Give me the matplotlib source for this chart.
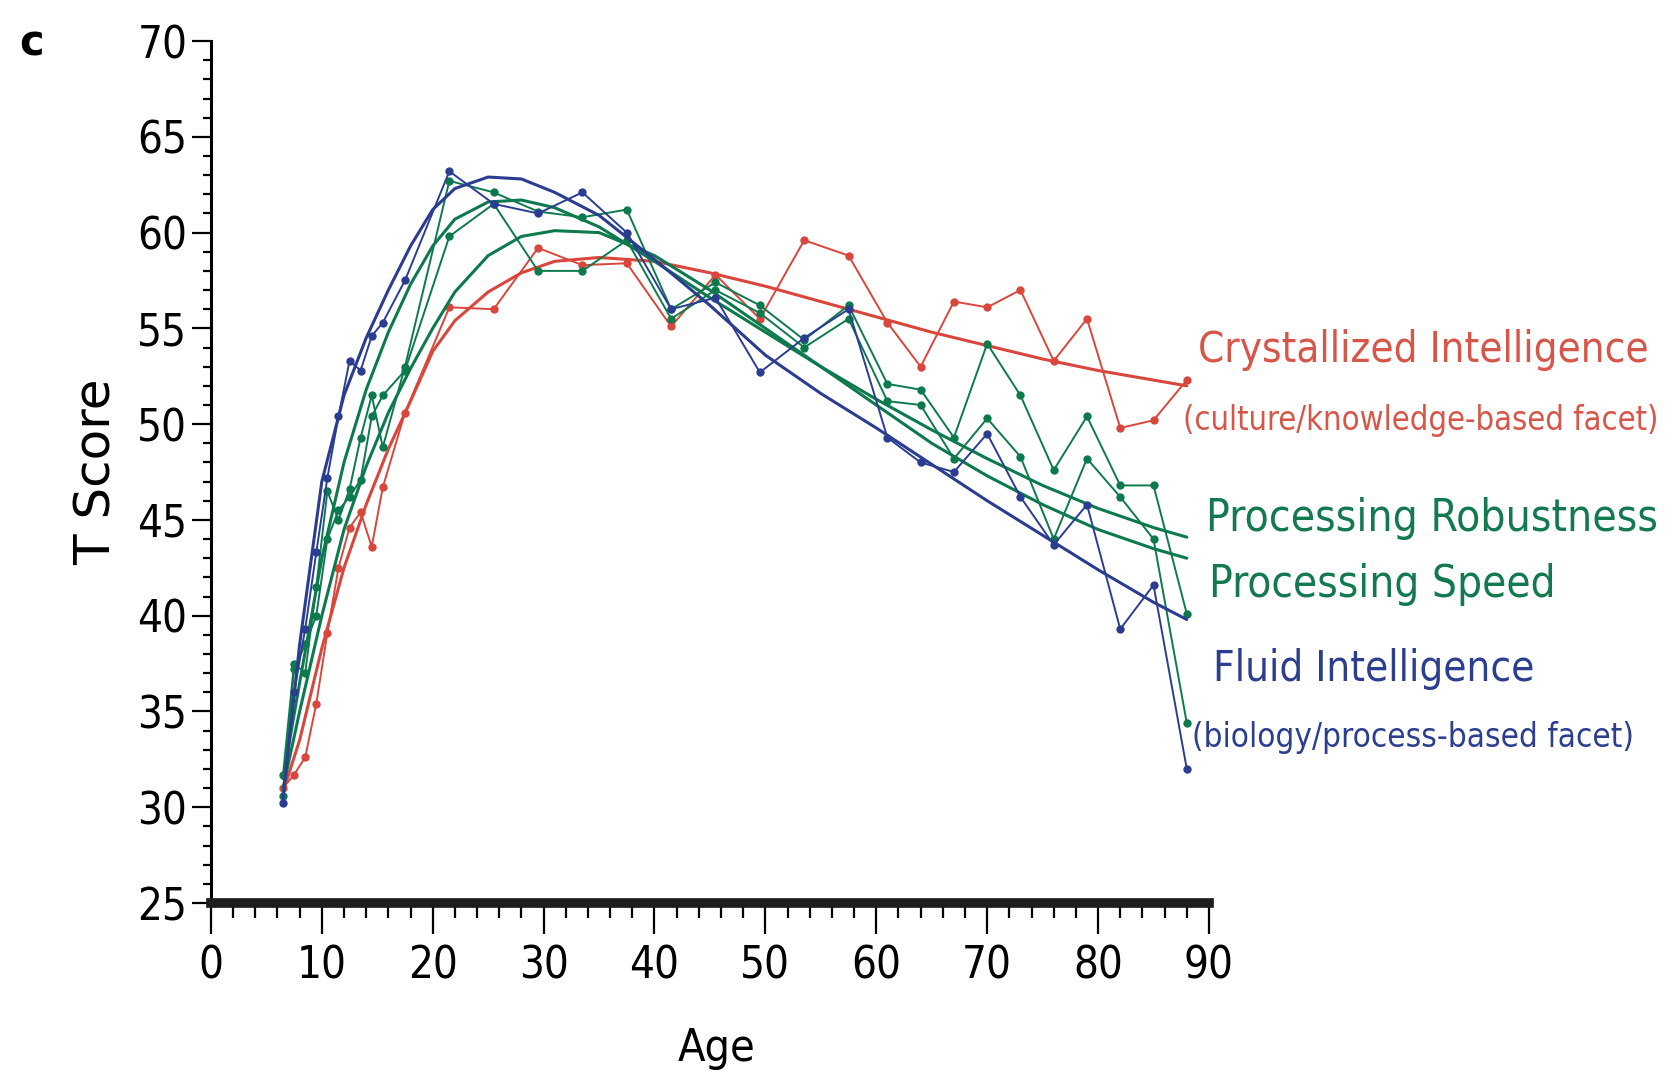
import matplotlib
matplotlib.use("Agg")
import matplotlib.pyplot as plt
import matplotlib.font_manager as fm
from matplotlib.ticker import MultipleLocator

# ------------------------------------------------------------
# Data
# ------------------------------------------------------------
ages = [6.5, 7.5, 8.5, 9.5, 10.5, 11.5, 12.5, 13.5, 14.5, 15.5, 17.5,
        21.5, 25.5, 29.5, 33.5, 37.5, 41.5, 45.5, 49.5, 53.5, 57.5,
        61, 64, 67, 70, 73, 76, 79, 82, 85, 88]

crystallized = [31.0, 31.7, 32.6, 35.4, 39.1, 42.5, 44.6, 45.4, 43.6, 46.7, 50.6,
                56.1, 56.0, 59.2, 58.3, 58.4, 55.1, 57.8, 55.5, 59.6, 58.8,
                55.3, 53.0, 56.4, 56.1, 57.0, 53.3, 55.5, 49.8, 50.2, 52.3]

robustness = [31.7, 37.5, 37.0, 41.5, 46.5, 45.0, 46.6, 49.3, 51.5, 48.8, 53.0,
              62.7, 62.1, 61.1, 60.8, 61.2, 56.0, 57.4, 56.2, 54.4, 56.2,
              52.1, 51.8, 49.3, 54.2, 51.5, 47.6, 50.4, 46.8, 46.8, 40.1]

speed = [30.6, 37.2, 38.5, 40.0, 44.0, 45.5, 46.2, 47.1, 50.4, 51.5, 52.8,
         59.8, 61.5, 58.0, 58.0, 59.6, 55.5, 57.0, 55.8, 54.0, 55.5,
         51.2, 51.0, 48.2, 50.3, 48.3, 44.0, 48.2, 46.2, 44.0, 34.4]

fluid = [30.2, 36.0, 39.3, 43.3, 47.2, 50.4, 53.3, 52.8, 54.6, 55.3, 57.5,
         63.2, 61.5, 61.0, 62.1, 60.0, 56.0, 56.6, 52.7, 54.5, 56.0,
         49.3, 48.0, 47.5, 49.5, 46.2, 43.7, 45.8, 39.3, 41.6, 32.0]

# fitted curves (read at these ages)
fit_ages = [6.5, 8, 10, 12, 14, 16, 18, 20, 22, 25, 28, 31, 35,
            40, 45, 50, 55, 60, 65, 70, 75, 80, 85, 88]
fit_crystallized = [30.8, 33.5, 38.3, 42.5, 45.8, 48.7, 51.2, 53.8, 55.4, 56.9, 57.9, 58.5, 58.7,
                    58.5, 57.9, 57.2, 56.4, 55.6, 54.8, 54.1, 53.4, 52.8, 52.3, 52.0]
fit_robustness = [31.5, 36.5, 43.0, 48.0, 51.8, 54.8, 57.3, 59.3, 60.7, 61.6, 61.7, 61.3, 60.3,
                  58.5, 56.6, 54.8, 53.0, 51.3, 49.7, 48.2, 46.8, 45.6, 44.6, 44.1]
fit_speed = [31.0, 35.0, 40.0, 44.5, 47.8, 50.6, 52.9, 55.0, 56.9, 58.8, 59.8, 60.1, 60.0,
             58.8, 57.0, 55.0, 53.0, 51.0, 49.0, 47.3, 45.8, 44.5, 43.5, 43.0]
fit_fluid = [30.5, 38.5, 47.0, 51.5, 54.5, 57.0, 59.3, 61.2, 62.3, 62.9, 62.8, 62.1, 60.9,
             58.6, 56.2, 53.6, 51.6, 49.8, 47.9, 46.0, 44.2, 42.4, 40.7, 39.8]

RED = "#d8463c"
GREEN = "#0d7a4e"
BLUE = "#2b3d91"
RED_TXT = "#d6564a"
GREEN_TXT = "#137a50"
BLUE_TXT = "#2c3f8f"

W, H = 1674, 1083


# pick a narrow sans if one is installed, else Liberation Sans
def narrow_font():
    for f in fm.fontManager.ttflist:
        if f.name == "Liberation Sans Narrow" and f.style == "normal" and f.weight in (400, "normal", "regular"):
            return fm.FontProperties(fname=f.fname)
    for fam in ["DejaVu Sans", "Roboto", "Open Sans", "Noto Sans", "Liberation Sans"]:
        for f in fm.fontManager.ttflist:
            if (f.name == fam and f.style == "normal" and "condensed" in str(f.stretch)
                    and f.weight in (400, "normal", "regular")):
                return fm.FontProperties(fname=f.fname)
    return fm.FontProperties(family="Liberation Sans")


FP = narrow_font()

# ------------------------------------------------------------
# Plot
# ------------------------------------------------------------
fig = plt.figure(figsize=(W / 100, H / 100), dpi=100)
ax = fig.add_axes([0.1260, 0.1662, 0.5962, 0.7959])

series = [
    (crystallized, fit_crystallized, RED),
    (robustness, fit_robustness, GREEN),
    (speed, fit_speed, GREEN),
    (fluid, fit_fluid, BLUE),
]
for vals, fit, col in series:
    ax.plot(fit_ages, fit, color=col, linewidth=2.2, solid_capstyle="round")
    ax.plot(ages, vals, color=col, linewidth=1.4, marker="o", markersize=6,
            markeredgewidth=0)

ax.set_xlim(0, 90)
ax.set_ylim(25, 70)

ax.spines["top"].set_visible(False)
ax.spines["right"].set_visible(False)
ax.spines["left"].set_linewidth(2.2)
ax.spines["bottom"].set_linewidth(7)
ax.spines["bottom"].set_color("#1e1e1e")

ax.xaxis.set_major_locator(MultipleLocator(10))
ax.xaxis.set_minor_locator(MultipleLocator(2))
ax.yaxis.set_major_locator(MultipleLocator(5))
ax.yaxis.set_minor_locator(MultipleLocator(1))

ax.tick_params(axis="y", which="major", length=14, width=1.6, pad=3)
ax.tick_params(axis="y", which="minor", length=6, width=1.6)
ax.tick_params(axis="x", which="major", length=22, width=1.6, pad=8)
ax.tick_params(axis="x", which="minor", length=11, width=1.6)

renderer = fig.canvas.get_renderer()


def fit_size(txt, target_px, base=30):
    txt.set_fontproperties(FP)
    txt.set_fontsize(base)
    bb = txt.get_window_extent(renderer)
    txt.set_fontsize(base * target_px / bb.width)


# tick labels: sized from the width of the reference labels
fig.canvas.draw()
probe = fig.text(0, 0, "70")
fit_size(probe, 50)
ysize = probe.get_fontsize()
probe.set_text("90")
fit_size(probe, 50)
xsize = probe.get_fontsize()
probe.remove()

for lab in ax.get_yticklabels():
    lab.set_fontproperties(FP)
    lab.set_fontsize(ysize)
for lab in ax.get_xticklabels():
    lab.set_fontproperties(FP)
    lab.set_fontsize(xsize)

ax.set_ylabel("T Score", fontsize=36, family="DejaVu Sans", va="center")
ax.yaxis.set_label_coords(-0.115, 0.5)
xl = ax.set_xlabel("Age")
fit_size(xl, 78)
ax.xaxis.set_label_coords(0.507, -0.169)
xl.set_va("center")

fig.text(32 / W, 1 - 43 / H, "c", fontsize=30, fontweight="bold",
         family="DejaVu Sans", ha="center", va="center")

# series labels on the right: (text, left px, centre px, width px, colour)
labels = [
    ("Crystallized Intelligence", 1198, 350, 451, RED_TXT),
    ("(culture/knowledge-based facet)", 1183, 420, 478, RED_TXT),
    ("Processing Robustness", 1206, 518, 451, GREEN_TXT),
    ("Processing Speed", 1209, 585, 347, GREEN_TXT),
    ("Fluid Intelligence", 1213, 669, 321, BLUE_TXT),
    ("(biology/process-based facet)", 1192, 737, 441, BLUE_TXT),
]
for s, x, y, w, c in labels:
    t = fig.text(x / W, 1 - y / H, s, color=c, ha="left", va="center")
    fit_size(t, w)

plt.savefig("out.png", dpi=100)
